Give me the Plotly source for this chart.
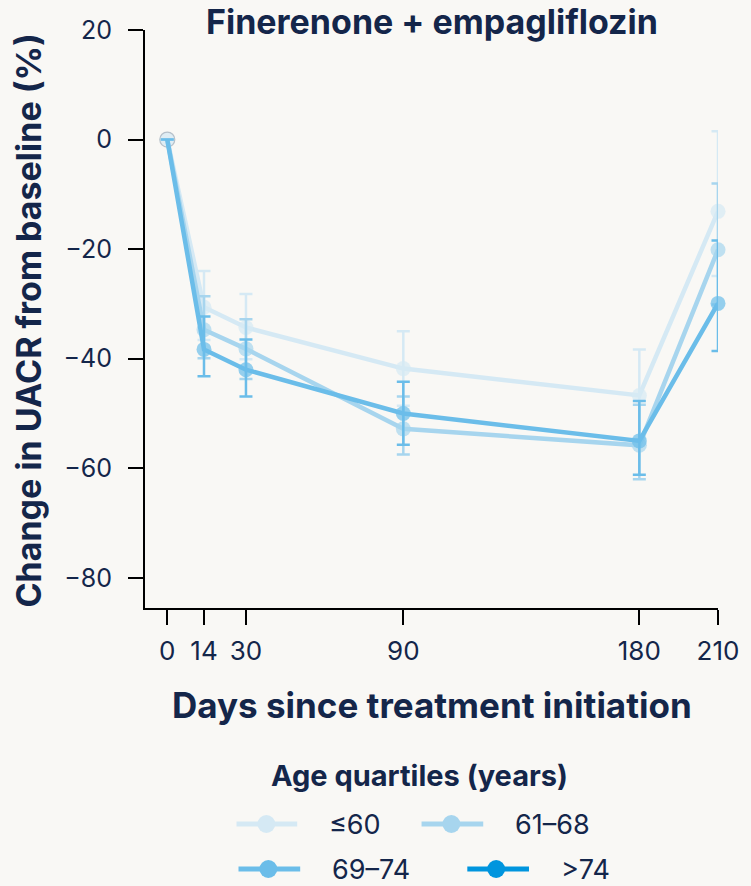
import plotly.graph_objects as go

# ---------------- data ----------------
days = [0, 14, 30, 90, 180, 210]
series_names = ["≤60", "61–68", "69–74", ">74"]

le60 = [0, -30.6, -34.3, -41.8, -46.7, -13.1]
le60_up = [0, 6.6, 6.1, 6.8, 8.4, 14.6]
le60_dn = [0, 6.0, 5.8, 6.8, 8.0, 11.8]

q61_68 = [0, -34.7, -38.2, -52.8, -55.8, -20.1]
q61_68_up = [0, 6.1, 5.4, 5.9, 7.4, 12.1]
q61_68_dn = [0, 5.2, 5.5, 4.7, 6.2, 10.0]

q69_74 = [0, -38.3, -42.0, -50.0, -55.0, -29.9]
q69_74_up = [0, 6.0, 5.5, 5.8, 7.3, 11.5]
q69_74_dn = [0, 4.9, 4.9, 5.7, 6.2, 8.7]

gt74 = []  # no data shown for this quartile
gt74_days = []

y_ticks = [20, 0, -20, -40, -60, -80]

# ---------------- styling ----------------
colors = ["#d5e9f4", "#a7d5ee", "#6bbde9", "#0095de"]
navy = "#14264a"
bg = "#f9f8f5"
FONT = "Inter, Liberation Sans, Arial, sans-serif"

W, H = 751, 886
L, R, T, B = 145, 30, 30, 278
PW, PH = W - L - R, H - T - B


def px_x(px):
    return (px - L) / PW


def px_y(py):
    return (H - B - py) / PH


fig = go.Figure()

data = [
    (days, le60, le60_up, le60_dn),
    (days, q61_68, q61_68_up, q61_68_dn),
    (days, q69_74, q69_74_up, q69_74_dn),
    (gt74_days, gt74, [], []),
]

for i, (xs, ys, up, dn) in enumerate(data):
    sizes = [15] * len(xs)
    lw = [0] * len(xs)
    if i > 0 and len(xs):
        sizes[0] = 0
    if i == 0 and len(xs):
        lw[0] = 1.2
    fig.add_trace(go.Scatter(
        x=xs, y=ys, name=series_names[i], mode="lines+markers",
        line=dict(color=colors[i], width=4.5),
        marker=dict(color=colors[i], size=sizes,
                    line=dict(color="#9aa9b8", width=lw)),
        error_y=dict(type="data", array=up, arrayminus=dn, symmetric=False,
                     color=colors[i], thickness=2.5, width=6.5, visible=True),
        cliponaxis=False, showlegend=False,
    ))

fig.update_layout(
    width=W, height=H, autosize=False,
    margin=dict(l=L, r=R, t=T, b=B),
    paper_bgcolor=bg, plot_bgcolor=bg,
    font=dict(family=FONT, color=navy),
    showlegend=False,
)

fig.update_xaxes(
    range=[-8.5, 210], tickvals=days, ticktext=[str(d) for d in days],
    showline=True, linecolor="black", linewidth=2,
    ticks="outside", ticklen=15, tickwidth=2, tickcolor="black",
    tickfont=dict(size=26, color=navy, family=FONT), ticklabelstandoff=4,
    showgrid=False, zeroline=False,
)
fig.update_yaxes(
    range=[-85.5, 20], tickvals=y_ticks,
    showline=True, linecolor="black", linewidth=2,
    ticks="outside", ticklen=15, tickwidth=2, tickcolor="black",
    tickfont=dict(size=25, color=navy, family=FONT), ticklabelstandoff=11,
    showgrid=False, zeroline=False,
)

ann = []
ann.append(dict(text="<b>Finerenone + empagliflozin</b>", x=px_x(433.5), y=px_y(21),
                xref="paper", yref="paper", xanchor="center", yanchor="middle",
                showarrow=False, font=dict(family=FONT, size=34, color=navy)))
ann.append(dict(text="<b>Days since treatment initiation</b>", x=px_x(433.5), y=px_y(705),
                xref="paper", yref="paper", xanchor="center", yanchor="middle",
                showarrow=False, font=dict(family=FONT, size=35, color=navy)))
ann.append(dict(text="<b>Change in UACR from baseline (%)</b>", x=px_x(27), y=px_y(320),
                xref="paper", yref="paper", xanchor="center", yanchor="middle",
                textangle=-90, showarrow=False, font=dict(family=FONT, size=34, color=navy)))
ann.append(dict(text="<b>Age quartiles (years)</b>", x=px_x(421), y=px_y(775),
                xref="paper", yref="paper", xanchor="center", yanchor="middle",
                showarrow=False, font=dict(family=FONT, size=29, color=navy)))

# manual legend: (line x0, line x1, marker x, text x, y)
leg_pos = [
    (237, 298, 267, 328, 824),
    (423, 485, 453, 515, 824),
    (239, 301, 269, 331, 869),
    (469, 531, 498, 561, 869),
]
shapes = []
for i, (x0, x1, xm, xt, yy) in enumerate(leg_pos):
    shapes.append(dict(type="line", xref="paper", yref="paper",
                       x0=px_x(x0), x1=px_x(x1), y0=px_y(yy), y1=px_y(yy),
                       line=dict(color=colors[i], width=5)))
    r = 9
    shapes.append(dict(type="circle", xref="paper", yref="paper",
                       x0=px_x(xm - r), x1=px_x(xm + r), y0=px_y(yy + r), y1=px_y(yy - r),
                       fillcolor=colors[i], line=dict(width=0)))
    ann.append(dict(text=series_names[i], x=px_x(xt), y=px_y(yy),
                    xref="paper", yref="paper", xanchor="left", yanchor="middle",
                    showarrow=False, font=dict(family=FONT, size=27, color=navy)))

fig.update_layout(annotations=ann, shapes=shapes)

fig.write_html(
    "out.html",
    config={"displayModeBar": False},
    post_script="document.body.style.margin='0';document.body.style.padding='0';"
                "document.body.style.background='%s';" % bg,
)
